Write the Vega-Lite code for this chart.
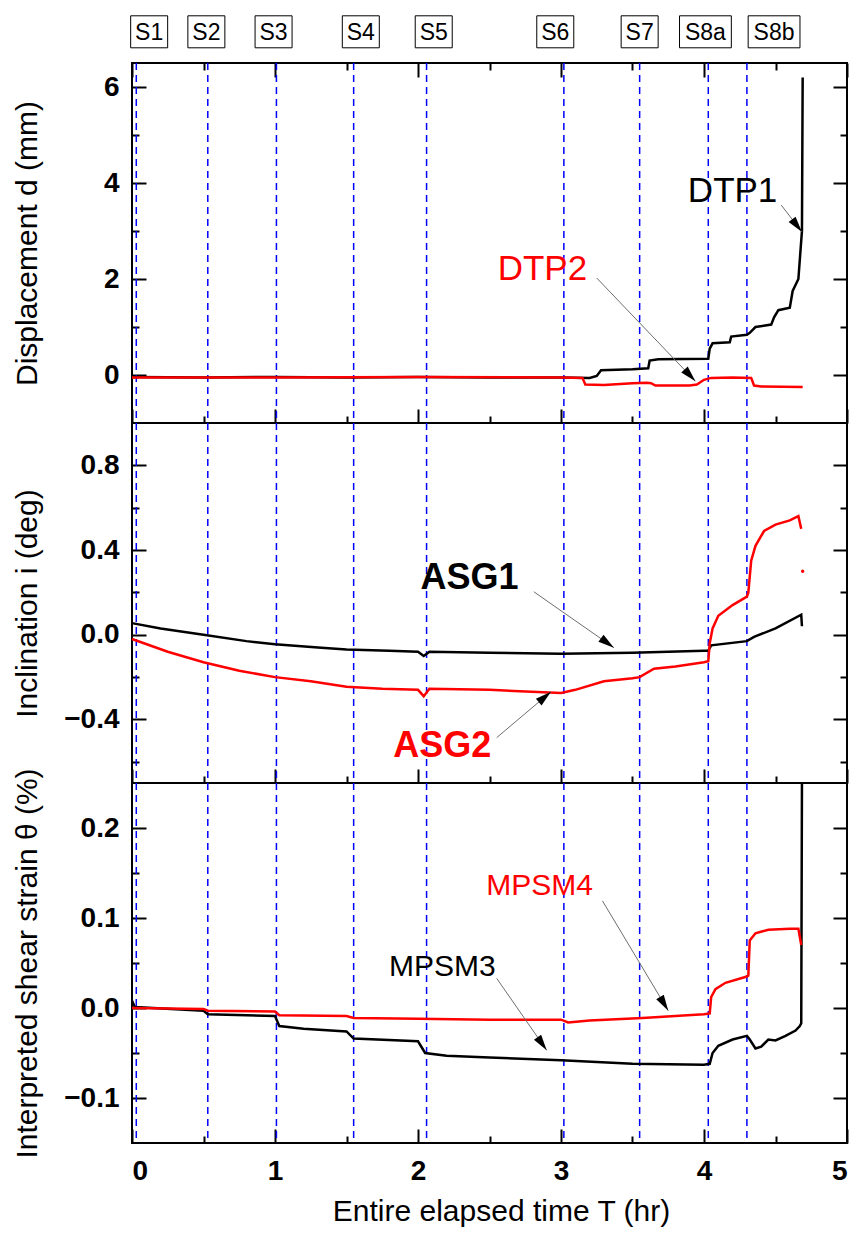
{
  "$schema": "https://vega.github.io/schema/vega-lite/v6.json",
  "background": "white",
  "padding": {"left": 10, "top": 12, "right": 10, "bottom": 5},
  "autosize": {"type": "pad"},
  "spacing": 0,
  "bounds": "flush",
  "config": {
    "view": {"stroke": "black", "strokeWidth": 2},
    "axis": {
      "domain": false, "grid": false, "tickColor": "black", "tickWidth": 2,
      "labelFont": "Liberation Sans", "labelFontWeight": "bold", "labelFontSize": 28, "labelColor": "black",
      "titleFont": "Liberation Sans", "titleFontWeight": "normal", "titleFontSize": 30, "titleColor": "black"
    }
  },
  "datasets": {
    "stages": [
      {"S": "S1", "T": 0.03, "lx": 0.12},
      {"S": "S2", "T": 0.53, "lx": 0.52},
      {"S": "S3", "T": 1.01, "lx": 0.99},
      {"S": "S4", "T": 1.55, "lx": 1.60},
      {"S": "S5", "T": 2.06, "lx": 2.11},
      {"S": "S6", "T": 3.02, "lx": 2.96},
      {"S": "S7", "T": 3.55, "lx": 3.55},
      {"S": "S8a", "T": 4.03, "lx": 4.01},
      {"S": "S8b", "T": 4.30, "lx": 4.49}
    ],
    "dtp": [
      {"s": "DTP1", "T": 0, "v": -0.04}, {"s": "DTP1", "T": 0.5, "v": -0.05}, {"s": "DTP1", "T": 1, "v": -0.04},
      {"s": "DTP1", "T": 1.5, "v": -0.05}, {"s": "DTP1", "T": 2, "v": -0.04}, {"s": "DTP1", "T": 2.5, "v": -0.05},
      {"s": "DTP1", "T": 3, "v": -0.05}, {"s": "DTP1", "T": 3.2, "v": -0.06}, {"s": "DTP1", "T": 3.25, "v": -0.02},
      {"s": "DTP1", "T": 3.28, "v": 0.1}, {"s": "DTP1", "T": 3.5, "v": 0.12}, {"s": "DTP1", "T": 3.61, "v": 0.14},
      {"s": "DTP1", "T": 3.62, "v": 0.3}, {"s": "DTP1", "T": 3.68, "v": 0.33}, {"s": "DTP1", "T": 4.03, "v": 0.34},
      {"s": "DTP1", "T": 4.04, "v": 0.55}, {"s": "DTP1", "T": 4.06, "v": 0.66}, {"s": "DTP1", "T": 4.18, "v": 0.68},
      {"s": "DTP1", "T": 4.19, "v": 0.8}, {"s": "DTP1", "T": 4.3, "v": 0.84}, {"s": "DTP1", "T": 4.32, "v": 0.88},
      {"s": "DTP1", "T": 4.36, "v": 1.0}, {"s": "DTP1", "T": 4.47, "v": 1.05}, {"s": "DTP1", "T": 4.49, "v": 1.2},
      {"s": "DTP1", "T": 4.52, "v": 1.35}, {"s": "DTP1", "T": 4.6, "v": 1.4}, {"s": "DTP1", "T": 4.62, "v": 1.75},
      {"s": "DTP1", "T": 4.66, "v": 2.0}, {"s": "DTP1", "T": 4.675, "v": 2.6}, {"s": "DTP1", "T": 4.685, "v": 3.0},
      {"s": "DTP1", "T": 4.69, "v": 6.2},
      {"s": "DTP2", "T": 0, "v": -0.05}, {"s": "DTP2", "T": 1, "v": -0.05}, {"s": "DTP2", "T": 2, "v": -0.04},
      {"s": "DTP2", "T": 3, "v": -0.05}, {"s": "DTP2", "T": 3.15, "v": -0.06}, {"s": "DTP2", "T": 3.17, "v": -0.2},
      {"s": "DTP2", "T": 3.3, "v": -0.21}, {"s": "DTP2", "T": 3.5, "v": -0.17}, {"s": "DTP2", "T": 3.6, "v": -0.16},
      {"s": "DTP2", "T": 3.63, "v": -0.17}, {"s": "DTP2", "T": 3.66, "v": -0.22}, {"s": "DTP2", "T": 3.9, "v": -0.22},
      {"s": "DTP2", "T": 3.95, "v": -0.2}, {"s": "DTP2", "T": 4.0, "v": -0.1}, {"s": "DTP2", "T": 4.05, "v": -0.06},
      {"s": "DTP2", "T": 4.2, "v": -0.05}, {"s": "DTP2", "T": 4.33, "v": -0.06}, {"s": "DTP2", "T": 4.35, "v": -0.22},
      {"s": "DTP2", "T": 4.4, "v": -0.24}, {"s": "DTP2", "T": 4.69, "v": -0.25}
    ],
    "asg": [
      {"s": "ASG1", "T": 0, "v": 0.055}, {"s": "ASG1", "T": 0.2, "v": 0.03}, {"s": "ASG1", "T": 0.5, "v": 0.0},
      {"s": "ASG1", "T": 0.8, "v": -0.03}, {"s": "ASG1", "T": 1.0, "v": -0.045}, {"s": "ASG1", "T": 1.3, "v": -0.06},
      {"s": "ASG1", "T": 1.5, "v": -0.07}, {"s": "ASG1", "T": 1.8, "v": -0.075}, {"s": "ASG1", "T": 2.0, "v": -0.08},
      {"s": "ASG1", "T": 2.04, "v": -0.1}, {"s": "ASG1", "T": 2.08, "v": -0.08}, {"s": "ASG1", "T": 2.5, "v": -0.085},
      {"s": "ASG1", "T": 3.0, "v": -0.09}, {"s": "ASG1", "T": 3.5, "v": -0.085}, {"s": "ASG1", "T": 4.0, "v": -0.075},
      {"s": "ASG1", "T": 4.03, "v": -0.075}, {"s": "ASG1", "T": 4.05, "v": -0.05}, {"s": "ASG1", "T": 4.3, "v": -0.03},
      {"s": "ASG1", "T": 4.35, "v": -0.01}, {"s": "ASG1", "T": 4.5, "v": 0.03}, {"s": "ASG1", "T": 4.68, "v": 0.095},
      {"s": "ASG1", "T": 4.685, "v": 0.04},
      {"s": "ASG2", "T": 0, "v": -0.02}, {"s": "ASG2", "T": 0.25, "v": -0.08}, {"s": "ASG2", "T": 0.5, "v": -0.13},
      {"s": "ASG2", "T": 0.75, "v": -0.17}, {"s": "ASG2", "T": 1.0, "v": -0.2}, {"s": "ASG2", "T": 1.25, "v": -0.22},
      {"s": "ASG2", "T": 1.5, "v": -0.245}, {"s": "ASG2", "T": 1.75, "v": -0.255}, {"s": "ASG2", "T": 2.0, "v": -0.26},
      {"s": "ASG2", "T": 2.04, "v": -0.29}, {"s": "ASG2", "T": 2.08, "v": -0.255}, {"s": "ASG2", "T": 2.5, "v": -0.26},
      {"s": "ASG2", "T": 3.0, "v": -0.275}, {"s": "ASG2", "T": 3.1, "v": -0.26}, {"s": "ASG2", "T": 3.3, "v": -0.22},
      {"s": "ASG2", "T": 3.5, "v": -0.205}, {"s": "ASG2", "T": 3.55, "v": -0.2}, {"s": "ASG2", "T": 3.65, "v": -0.16},
      {"s": "ASG2", "T": 3.8, "v": -0.15}, {"s": "ASG2", "T": 4.0, "v": -0.13}, {"s": "ASG2", "T": 4.03, "v": -0.125},
      {"s": "ASG2", "T": 4.04, "v": -0.04}, {"s": "ASG2", "T": 4.06, "v": 0.03}, {"s": "ASG2", "T": 4.1, "v": 0.09},
      {"s": "ASG2", "T": 4.2, "v": 0.14}, {"s": "ASG2", "T": 4.3, "v": 0.18}, {"s": "ASG2", "T": 4.31, "v": 0.2},
      {"s": "ASG2", "T": 4.33, "v": 0.35}, {"s": "ASG2", "T": 4.36, "v": 0.42}, {"s": "ASG2", "T": 4.42, "v": 0.49},
      {"s": "ASG2", "T": 4.5, "v": 0.52}, {"s": "ASG2", "T": 4.6, "v": 0.54}, {"s": "ASG2", "T": 4.66, "v": 0.56},
      {"s": "ASG2", "T": 4.68, "v": 0.5}
    ],
    "asg_dot": [{"s": "ASG2", "T": 4.69, "v": 0.3}],
    "mpsm": [
      {"s": "MPSM3", "T": 0, "v": 0.008}, {"s": "MPSM3", "T": 0.02, "v": 0.001}, {"s": "MPSM3", "T": 0.5, "v": -0.003},
      {"s": "MPSM3", "T": 0.53, "v": -0.007}, {"s": "MPSM3", "T": 1.0, "v": -0.009}, {"s": "MPSM3", "T": 1.03, "v": -0.02},
      {"s": "MPSM3", "T": 1.2, "v": -0.023}, {"s": "MPSM3", "T": 1.5, "v": -0.026}, {"s": "MPSM3", "T": 1.55, "v": -0.034},
      {"s": "MPSM3", "T": 2.0, "v": -0.037}, {"s": "MPSM3", "T": 2.05, "v": -0.05}, {"s": "MPSM3", "T": 2.2, "v": -0.053},
      {"s": "MPSM3", "T": 2.5, "v": -0.055}, {"s": "MPSM3", "T": 3.0, "v": -0.058}, {"s": "MPSM3", "T": 3.5, "v": -0.062},
      {"s": "MPSM3", "T": 4.0, "v": -0.063}, {"s": "MPSM3", "T": 4.04, "v": -0.062}, {"s": "MPSM3", "T": 4.06, "v": -0.05},
      {"s": "MPSM3", "T": 4.1, "v": -0.042}, {"s": "MPSM3", "T": 4.2, "v": -0.035}, {"s": "MPSM3", "T": 4.3, "v": -0.031},
      {"s": "MPSM3", "T": 4.32, "v": -0.035}, {"s": "MPSM3", "T": 4.36, "v": -0.045}, {"s": "MPSM3", "T": 4.4, "v": -0.043},
      {"s": "MPSM3", "T": 4.45, "v": -0.035}, {"s": "MPSM3", "T": 4.5, "v": -0.036}, {"s": "MPSM3", "T": 4.57, "v": -0.031},
      {"s": "MPSM3", "T": 4.64, "v": -0.025}, {"s": "MPSM3", "T": 4.67, "v": -0.02}, {"s": "MPSM3", "T": 4.68, "v": -0.017},
      {"s": "MPSM3", "T": 4.685, "v": 0.25},
      {"s": "MPSM4", "T": 0, "v": 0.0}, {"s": "MPSM4", "T": 0.5, "v": -0.001}, {"s": "MPSM4", "T": 0.53, "v": -0.003},
      {"s": "MPSM4", "T": 1.0, "v": -0.004}, {"s": "MPSM4", "T": 1.03, "v": -0.008}, {"s": "MPSM4", "T": 1.5, "v": -0.009},
      {"s": "MPSM4", "T": 1.55, "v": -0.011}, {"s": "MPSM4", "T": 2.0, "v": -0.012}, {"s": "MPSM4", "T": 2.5, "v": -0.013},
      {"s": "MPSM4", "T": 3.0, "v": -0.013}, {"s": "MPSM4", "T": 3.05, "v": -0.016}, {"s": "MPSM4", "T": 3.2, "v": -0.014},
      {"s": "MPSM4", "T": 3.57, "v": -0.011}, {"s": "MPSM4", "T": 4.0, "v": -0.007}, {"s": "MPSM4", "T": 4.04, "v": -0.006},
      {"s": "MPSM4", "T": 4.05, "v": 0.012}, {"s": "MPSM4", "T": 4.08, "v": 0.021}, {"s": "MPSM4", "T": 4.15, "v": 0.028},
      {"s": "MPSM4", "T": 4.3, "v": 0.035}, {"s": "MPSM4", "T": 4.31, "v": 0.036}, {"s": "MPSM4", "T": 4.32, "v": 0.075},
      {"s": "MPSM4", "T": 4.36, "v": 0.083}, {"s": "MPSM4", "T": 4.45, "v": 0.087}, {"s": "MPSM4", "T": 4.6, "v": 0.088},
      {"s": "MPSM4", "T": 4.66, "v": 0.088}, {"s": "MPSM4", "T": 4.68, "v": 0.07}
    ],
    "note_dtp": [
      {"label": "DTP1", "x": 4.20, "y": 3.83, "x1": 4.54, "y1": 3.54, "x2": 4.685, "y2": 2.98},
      {"label": "DTP2", "x": 2.87, "y": 2.21, "x1": 3.25, "y1": 2.02, "x2": 3.94, "y2": -0.13}
    ],
    "note_asg": [
      {"label": "ASG1", "x": 2.36, "y": 0.27, "x1": 2.81, "y1": 0.203, "x2": 3.37, "y2": -0.061},
      {"label": "ASG2", "x": 2.17, "y": -0.524, "x1": 2.55, "y1": -0.486, "x2": 2.93, "y2": -0.269}
    ],
    "note_mpsm": [
      {"label": "MPSM4", "x": 2.85, "y": 0.136, "x1": 3.29, "y1": 0.119, "x2": 3.75, "y2": -0.003},
      {"label": "MPSM3", "x": 2.17, "y": 0.046, "x1": 2.55, "y1": 0.033, "x2": 2.90, "y2": -0.047}
    ]
  },
  "vconcat": [
    {
      "width": 715, "height": 360,
      "resolve": {"axis": {"x": "independent", "y": "independent"}},
      "layer": [
        {"data": {"name": "dtp"}, "mark": {"type": "point", "opacity": 0},
         "encoding": {
           "x": {"field": "T", "type": "quantitative", "scale": {"domain": [0, 5], "nice": false}, "axis": {"orient": "bottom", "values": [0, 1, 2, 3, 4, 5], "tickSize": -14, "labels": false, "title": null}},
           "y": {"field": "v", "type": "quantitative", "scale": {"domain": [-1, 6.5], "nice": false}, "axis": {"orient": "left", "values": [0, 2, 4, 6], "tickSize": -14, "labelPadding": 27, "format": "d", "title": "Displacement  d (mm)", "titleX": -105, "titleBaseline": "middle"}}}},
        {"data": {"name": "dtp"}, "mark": {"type": "point", "opacity": 0},
         "encoding": {
           "x": {"field": "T", "type": "quantitative", "scale": {"domain": [0, 5], "nice": false}, "axis": {"orient": "bottom", "values": [0.5, 1.5, 2.5, 3.5, 4.5], "tickSize": -7, "labels": false, "title": null}},
           "y": {"field": "v", "type": "quantitative", "scale": {"domain": [-1, 6.5], "nice": false}, "axis": {"orient": "left", "values": [1, 3, 5], "tickSize": -7, "labels": false, "title": null}}}},
        {"data": {"name": "dtp"}, "mark": {"type": "point", "opacity": 0},
         "encoding": {
           "x": {"field": "T", "type": "quantitative", "scale": {"domain": [0, 5], "nice": false}, "axis": {"orient": "top", "values": [0, 1, 2, 3, 4, 5], "tickSize": -14, "labels": false, "title": null}},
           "y": {"field": "v", "type": "quantitative", "scale": {"domain": [-1, 6.5], "nice": false}, "axis": {"orient": "right", "values": [0, 2, 4, 6], "tickSize": -14, "labels": false, "title": null}}}},
        {"data": {"name": "dtp"}, "mark": {"type": "point", "opacity": 0},
         "encoding": {
           "x": {"field": "T", "type": "quantitative", "scale": {"domain": [0, 5], "nice": false}, "axis": {"orient": "top", "values": [0.5, 1.5, 2.5, 3.5, 4.5], "tickSize": -7, "labels": false, "title": null}},
           "y": {"field": "v", "type": "quantitative", "scale": {"domain": [-1, 6.5], "nice": false}, "axis": {"orient": "right", "values": [1, 3, 5], "tickSize": -7, "labels": false, "title": null}}}},
        {"data": {"name": "stages"}, "mark": {"type": "rule", "color": "#0000ff", "strokeWidth": 1.5, "strokeDash": [7, 5]},
         "encoding": {"x": {"field": "T", "type": "quantitative", "scale": {"domain": [0, 5], "nice": false}, "axis": null}}},
        {"data": {"name": "dtp"}, "mark": {"type": "line", "strokeWidth": 2.5},
         "encoding": {
           "x": {"field": "T", "type": "quantitative", "scale": {"domain": [0, 5], "nice": false}, "axis": null},
           "y": {"field": "v", "type": "quantitative", "scale": {"domain": [-1, 6.5], "nice": false}, "axis": null},
           "color": {"field": "s", "type": "nominal", "scale": {"domain": ["DTP1", "DTP2"], "range": ["#000000", "#ff0000"]}, "legend": null}}},
        {"data": {"name": "note_dtp"}, "mark": {"type": "rule", "color": "#6e6e6e", "strokeWidth": 1},
         "encoding": {
           "x": {"field": "x1", "type": "quantitative", "scale": {"domain": [0, 5], "nice": false}, "axis": null},
           "y": {"field": "y1", "type": "quantitative", "scale": {"domain": [-1, 6.5], "nice": false}, "axis": null},
           "x2": {"field": "x2"}, "y2": {"field": "y2"}}},
        {"data": {"name": "note_dtp"}, "transform": [{"filter": "datum.label === 'DTP1'"}],
         "mark": {"type": "point", "shape": "M0,0L0.55,2L-0.55,2Z", "size": 256, "filled": true, "color": "black", "opacity": 1, "angle": 142},
         "encoding": {
           "x": {"field": "x2", "type": "quantitative", "scale": {"domain": [0, 5], "nice": false}, "axis": null},
           "y": {"field": "y2", "type": "quantitative", "scale": {"domain": [-1, 6.5], "nice": false}, "axis": null}}},
        {"data": {"name": "note_dtp"}, "transform": [{"filter": "datum.label === 'DTP2'"}],
         "mark": {"type": "point", "shape": "M0,0L0.55,2L-0.55,2Z", "size": 256, "filled": true, "color": "black", "opacity": 1, "angle": 137},
         "encoding": {
           "x": {"field": "x2", "type": "quantitative", "scale": {"domain": [0, 5], "nice": false}, "axis": null},
           "y": {"field": "y2", "type": "quantitative", "scale": {"domain": [-1, 6.5], "nice": false}, "axis": null}}},
        {"data": {"name": "note_dtp"}, "mark": {"type": "text", "font": "Liberation Sans", "fontSize": 35, "align": "center", "baseline": "middle"},
         "encoding": {
           "x": {"field": "x", "type": "quantitative", "scale": {"domain": [0, 5], "nice": false}, "axis": null},
           "y": {"field": "y", "type": "quantitative", "scale": {"domain": [-1, 6.5], "nice": false}, "axis": null},
           "text": {"field": "label"},
           "color": {"field": "label", "type": "nominal", "scale": {"domain": ["DTP1", "DTP2"], "range": ["#000000", "#ff0000"]}, "legend": null}}},
        {"data": {"name": "stages"}, "mark": {"type": "point", "filled": true, "fill": "white", "stroke": "black", "strokeWidth": 1, "opacity": 1, "size": 1369},
         "encoding": {
           "x": {"field": "lx", "type": "quantitative", "scale": {"domain": [0, 5], "nice": false}, "axis": null},
           "y": {"datum": 7.15, "type": "quantitative", "scale": {"domain": [-1, 6.5], "nice": false}, "axis": null},
           "shape": {"field": "S", "type": "nominal", "scale": {"domain": ["S1", "S2", "S3", "S4", "S5", "S6", "S7", "S8a", "S8b"], "range": ["M-1,-0.865H1V0.865H-1Z", "M-1,-0.865H1V0.865H-1Z", "M-1,-0.865H1V0.865H-1Z", "M-1,-0.865H1V0.865H-1Z", "M-1,-0.865H1V0.865H-1Z", "M-1,-0.865H1V0.865H-1Z", "M-1,-0.865H1V0.865H-1Z", "M-1.4,-0.865H1.4V0.865H-1.4Z", "M-1.4,-0.865H1.4V0.865H-1.4Z"]}, "legend": null}}},
        {"data": {"name": "stages"}, "mark": {"type": "text", "font": "Liberation Sans", "fontSize": 23, "color": "black", "align": "center", "baseline": "middle", "dy": 1},
         "encoding": {
           "x": {"field": "lx", "type": "quantitative", "scale": {"domain": [0, 5], "nice": false}, "axis": null},
           "y": {"datum": 7.15, "type": "quantitative", "scale": {"domain": [-1, 6.5], "nice": false}, "axis": null},
           "text": {"field": "S"}}}
      ]
    },
    {
      "width": 715, "height": 360,
      "resolve": {"axis": {"x": "independent", "y": "independent"}},
      "layer": [
        {"data": {"name": "asg"}, "mark": {"type": "point", "opacity": 0},
         "encoding": {
           "x": {"field": "T", "type": "quantitative", "scale": {"domain": [0, 5], "nice": false}, "axis": {"orient": "bottom", "values": [0, 1, 2, 3, 4, 5], "tickSize": -14, "labels": false, "title": null}},
           "y": {"field": "v", "type": "quantitative", "scale": {"domain": [-0.7, 1.0], "nice": false}, "axis": {"orient": "left", "values": [-0.4, 0, 0.4, 0.8], "tickSize": -14, "labelPadding": 27, "format": ".1f", "title": "Inclination  i (deg)", "titleX": -105, "titleBaseline": "middle"}}}},
        {"data": {"name": "asg"}, "mark": {"type": "point", "opacity": 0},
         "encoding": {
           "x": {"field": "T", "type": "quantitative", "scale": {"domain": [0, 5], "nice": false}, "axis": {"orient": "bottom", "values": [0.5, 1.5, 2.5, 3.5, 4.5], "tickSize": -7, "labels": false, "title": null}},
           "y": {"field": "v", "type": "quantitative", "scale": {"domain": [-0.7, 1.0], "nice": false}, "axis": {"orient": "left", "values": [-0.6, -0.2, 0.2, 0.6], "tickSize": -7, "labels": false, "title": null}}}},
        {"data": {"name": "asg"}, "mark": {"type": "point", "opacity": 0},
         "encoding": {
           "x": {"field": "T", "type": "quantitative", "scale": {"domain": [0, 5], "nice": false}, "axis": null},
           "y": {"field": "v", "type": "quantitative", "scale": {"domain": [-0.7, 1.0], "nice": false}, "axis": {"orient": "right", "values": [-0.4, 0, 0.4, 0.8], "tickSize": -14, "labels": false, "title": null}}}},
        {"data": {"name": "asg"}, "mark": {"type": "point", "opacity": 0},
         "encoding": {
           "x": {"field": "T", "type": "quantitative", "scale": {"domain": [0, 5], "nice": false}, "axis": null},
           "y": {"field": "v", "type": "quantitative", "scale": {"domain": [-0.7, 1.0], "nice": false}, "axis": {"orient": "right", "values": [-0.6, -0.2, 0.2, 0.6], "tickSize": -7, "labels": false, "title": null}}}},
        {"data": {"name": "stages"}, "mark": {"type": "rule", "color": "#0000ff", "strokeWidth": 1.5, "strokeDash": [7, 5]},
         "encoding": {"x": {"field": "T", "type": "quantitative", "scale": {"domain": [0, 5], "nice": false}, "axis": null}}},
        {"data": {"name": "asg"}, "mark": {"type": "line", "strokeWidth": 2.5},
         "encoding": {
           "x": {"field": "T", "type": "quantitative", "scale": {"domain": [0, 5], "nice": false}, "axis": null},
           "y": {"field": "v", "type": "quantitative", "scale": {"domain": [-0.7, 1.0], "nice": false}, "axis": null},
           "color": {"field": "s", "type": "nominal", "scale": {"domain": ["ASG1", "ASG2"], "range": ["#000000", "#ff0000"]}, "legend": null}}},
        {"data": {"name": "asg_dot"}, "mark": {"type": "point", "filled": true, "size": 12, "opacity": 1},
         "encoding": {
           "x": {"field": "T", "type": "quantitative", "scale": {"domain": [0, 5], "nice": false}, "axis": null},
           "y": {"field": "v", "type": "quantitative", "scale": {"domain": [-0.7, 1.0], "nice": false}, "axis": null},
           "color": {"field": "s", "type": "nominal", "scale": {"domain": ["ASG1", "ASG2"], "range": ["#000000", "#ff0000"]}, "legend": null}}},
        {"data": {"name": "note_asg"}, "mark": {"type": "rule", "color": "#6e6e6e", "strokeWidth": 1},
         "encoding": {
           "x": {"field": "x1", "type": "quantitative", "scale": {"domain": [0, 5], "nice": false}, "axis": null},
           "y": {"field": "y1", "type": "quantitative", "scale": {"domain": [-0.7, 1.0], "nice": false}, "axis": null},
           "x2": {"field": "x2"}, "y2": {"field": "y2"}}},
        {"data": {"name": "note_asg"}, "transform": [{"filter": "datum.label === 'ASG1'"}],
         "mark": {"type": "point", "shape": "M0,0L0.55,2L-0.55,2Z", "size": 256, "filled": true, "color": "black", "opacity": 1, "angle": 126},
         "encoding": {
           "x": {"field": "x2", "type": "quantitative", "scale": {"domain": [0, 5], "nice": false}, "axis": null},
           "y": {"field": "y2", "type": "quantitative", "scale": {"domain": [-0.7, 1.0], "nice": false}, "axis": null}}},
        {"data": {"name": "note_asg"}, "transform": [{"filter": "datum.label === 'ASG2'"}],
         "mark": {"type": "point", "shape": "M0,0L0.55,2L-0.55,2Z", "size": 256, "filled": true, "color": "black", "opacity": 1, "angle": 50},
         "encoding": {
           "x": {"field": "x2", "type": "quantitative", "scale": {"domain": [0, 5], "nice": false}, "axis": null},
           "y": {"field": "y2", "type": "quantitative", "scale": {"domain": [-0.7, 1.0], "nice": false}, "axis": null}}},
        {"data": {"name": "note_asg"}, "mark": {"type": "text", "font": "Liberation Sans", "fontWeight": "bold", "fontSize": 36, "align": "center", "baseline": "middle"},
         "encoding": {
           "x": {"field": "x", "type": "quantitative", "scale": {"domain": [0, 5], "nice": false}, "axis": null},
           "y": {"field": "y", "type": "quantitative", "scale": {"domain": [-0.7, 1.0], "nice": false}, "axis": null},
           "text": {"field": "label"},
           "color": {"field": "label", "type": "nominal", "scale": {"domain": ["ASG1", "ASG2"], "range": ["#000000", "#ff0000"]}, "legend": null}}}
      ]
    },
    {
      "width": 715, "height": 360,
      "resolve": {"axis": {"x": "independent", "y": "independent"}},
      "layer": [
        {"data": {"name": "mpsm"}, "mark": {"type": "point", "opacity": 0},
         "encoding": {
           "x": {"field": "T", "type": "quantitative", "scale": {"domain": [0, 5], "nice": false}, "axis": {"orient": "bottom", "values": [0, 1, 2, 3, 4, 5], "tickSize": -14, "labelPadding": 28, "format": "d", "title": "Entire elapsed time   T (hr)", "titleX": 369, "titleY": 68, "titleBaseline": "middle"}},
           "y": {"field": "v", "type": "quantitative", "scale": {"domain": [-0.15, 0.25], "nice": false}, "axis": {"orient": "left", "values": [-0.1, 0, 0.1, 0.2], "tickSize": -14, "labelPadding": 27, "format": ".1f", "title": "Interpreted shear strain  θ (%)", "titleX": -105, "titleBaseline": "middle"}}}},
        {"data": {"name": "mpsm"}, "mark": {"type": "point", "opacity": 0},
         "encoding": {
           "x": {"field": "T", "type": "quantitative", "scale": {"domain": [0, 5], "nice": false}, "axis": {"orient": "bottom", "values": [0.5, 1.5, 2.5, 3.5, 4.5], "tickSize": -7, "labels": false, "title": null}},
           "y": {"field": "v", "type": "quantitative", "scale": {"domain": [-0.15, 0.25], "nice": false}, "axis": {"orient": "left", "values": [-0.05, 0.05, 0.15], "tickSize": -7, "labels": false, "title": null}}}},
        {"data": {"name": "mpsm"}, "mark": {"type": "point", "opacity": 0},
         "encoding": {
           "x": {"field": "T", "type": "quantitative", "scale": {"domain": [0, 5], "nice": false}, "axis": null},
           "y": {"field": "v", "type": "quantitative", "scale": {"domain": [-0.15, 0.25], "nice": false}, "axis": {"orient": "right", "values": [-0.1, 0, 0.1, 0.2], "tickSize": -14, "labels": false, "title": null}}}},
        {"data": {"name": "mpsm"}, "mark": {"type": "point", "opacity": 0},
         "encoding": {
           "x": {"field": "T", "type": "quantitative", "scale": {"domain": [0, 5], "nice": false}, "axis": null},
           "y": {"field": "v", "type": "quantitative", "scale": {"domain": [-0.15, 0.25], "nice": false}, "axis": {"orient": "right", "values": [-0.05, 0.05, 0.15], "tickSize": -7, "labels": false, "title": null}}}},
        {"data": {"name": "stages"}, "mark": {"type": "rule", "color": "#0000ff", "strokeWidth": 1.5, "strokeDash": [7, 5]},
         "encoding": {"x": {"field": "T", "type": "quantitative", "scale": {"domain": [0, 5], "nice": false}, "axis": null}}},
        {"data": {"name": "mpsm"}, "mark": {"type": "line", "strokeWidth": 2.5, "clip": true},
         "encoding": {
           "x": {"field": "T", "type": "quantitative", "scale": {"domain": [0, 5], "nice": false}, "axis": null},
           "y": {"field": "v", "type": "quantitative", "scale": {"domain": [-0.15, 0.25], "nice": false}, "axis": null},
           "color": {"field": "s", "type": "nominal", "scale": {"domain": ["MPSM3", "MPSM4"], "range": ["#000000", "#ff0000"]}, "legend": null}}},
        {"data": {"name": "note_mpsm"}, "mark": {"type": "rule", "color": "#6e6e6e", "strokeWidth": 1},
         "encoding": {
           "x": {"field": "x1", "type": "quantitative", "scale": {"domain": [0, 5], "nice": false}, "axis": null},
           "y": {"field": "y1", "type": "quantitative", "scale": {"domain": [-0.15, 0.25], "nice": false}, "axis": null},
           "x2": {"field": "x2"}, "y2": {"field": "y2"}}},
        {"data": {"name": "note_mpsm"}, "transform": [{"filter": "datum.label === 'MPSM4'"}],
         "mark": {"type": "point", "shape": "M0,0L0.55,2L-0.55,2Z", "size": 256, "filled": true, "color": "black", "opacity": 1, "angle": 149},
         "encoding": {
           "x": {"field": "x2", "type": "quantitative", "scale": {"domain": [0, 5], "nice": false}, "axis": null},
           "y": {"field": "y2", "type": "quantitative", "scale": {"domain": [-0.15, 0.25], "nice": false}, "axis": null}}},
        {"data": {"name": "note_mpsm"}, "transform": [{"filter": "datum.label === 'MPSM3'"}],
         "mark": {"type": "point", "shape": "M0,0L0.55,2L-0.55,2Z", "size": 256, "filled": true, "color": "black", "opacity": 1, "angle": 145},
         "encoding": {
           "x": {"field": "x2", "type": "quantitative", "scale": {"domain": [0, 5], "nice": false}, "axis": null},
           "y": {"field": "y2", "type": "quantitative", "scale": {"domain": [-0.15, 0.25], "nice": false}, "axis": null}}},
        {"data": {"name": "note_mpsm"}, "mark": {"type": "text", "font": "Liberation Sans", "fontSize": 30, "align": "center", "baseline": "middle"},
         "encoding": {
           "x": {"field": "x", "type": "quantitative", "scale": {"domain": [0, 5], "nice": false}, "axis": null},
           "y": {"field": "y", "type": "quantitative", "scale": {"domain": [-0.15, 0.25], "nice": false}, "axis": null},
           "text": {"field": "label"},
           "color": {"field": "label", "type": "nominal", "scale": {"domain": ["MPSM3", "MPSM4"], "range": ["#000000", "#ff0000"]}, "legend": null}}}
      ]
    }
  ]
}
